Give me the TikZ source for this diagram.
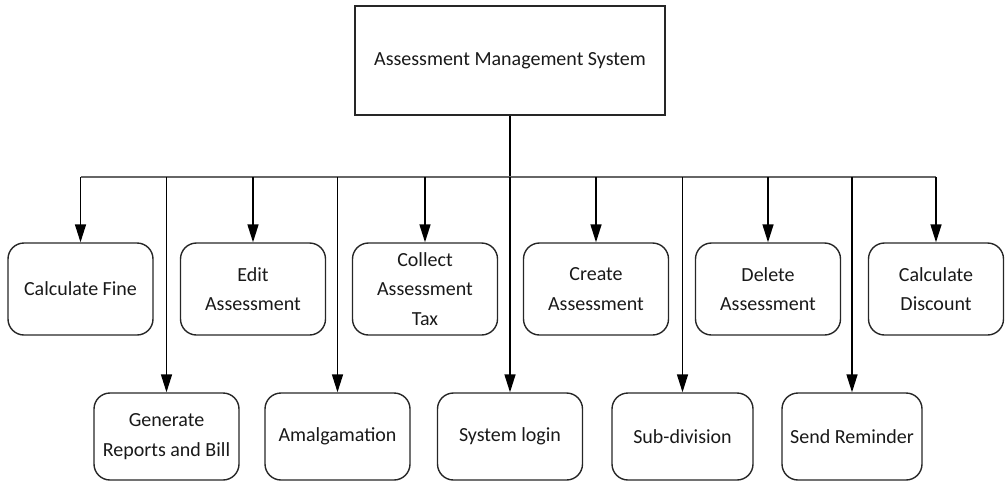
\documentclass[tikz,border=0pt]{standalone}
\usepackage{fontspec}
\setmainfont{Carlito}
\usetikzlibrary{arrows.meta}
\tikzset{
  box/.style={draw=black!85, line width=1.4pt, rounded corners=16pt, minimum width=145pt, minimum height=92pt, align=center, inner sep=2pt, font=\fontsize{20}{29.5}\selectfont, text=black!90},
  rootbox/.style={draw=black!85, line width=1.7pt, minimum width=310pt, minimum height=109pt, font=\fontsize{20}{29.5}\selectfont, text=black!90},
  arr/.style={line width=1.5pt, -{Triangle[width=11pt,length=18pt]}},
  ln/.style={line width=1.5pt},
  busline/.style={line width=2.2pt, draw=black!60}
}
\begin{document}
\begin{tikzpicture}[x=1pt,y=-1pt]
\useasboundingbox (0,0) rectangle (1008,483);
\node[rootbox] (ams) at (510,60.5) {Assessment Management System};
\coordinate (bus) at (510,177);
% top row
\node[box] (fine) at (80.5,289) {Calculate Fine};
\node[box] (edit) at (253,289) {Edit\\Assessment};
\node[box] (collect) at (425,289) {Collect\\Assessment\\Tax};
\node[box] (create) at (596,289) {Create\\Assessment};
\node[box] (delete) at (768,289) {Delete\\Assessment};
\node[box, minimum width=135pt] (discount) at (936,289) {Calculate\\Discount};
% bottom row
\node[box, minimum height=87pt] (report) at (166.5,436.5) {Generate\\Reports and Bill};
\node[box, minimum height=87pt] (amal) at (337.5,436.5) {Amalgamation};
\node[box, minimum height=87pt] (login) at (510,436.5) {System login};
\node[box, minimum height=87pt, minimum width=141pt] (sub) at (682.5,436.5) {Sub-division};
\node[box, minimum height=87pt, minimum width=140pt] (remind) at (852,436.5) {Send Reminder};
% connectors
\draw[ln] (ams.south) -- (bus);
\draw[busline] (fine.north |- bus) -- (discount.north |- bus);
\foreach \n in {fine,edit,collect,create,delete,discount,report,amal,login,sub,remind}
  \draw[arr] (\n.north |- bus) -- (\n.north);
\end{tikzpicture}
\end{document}
